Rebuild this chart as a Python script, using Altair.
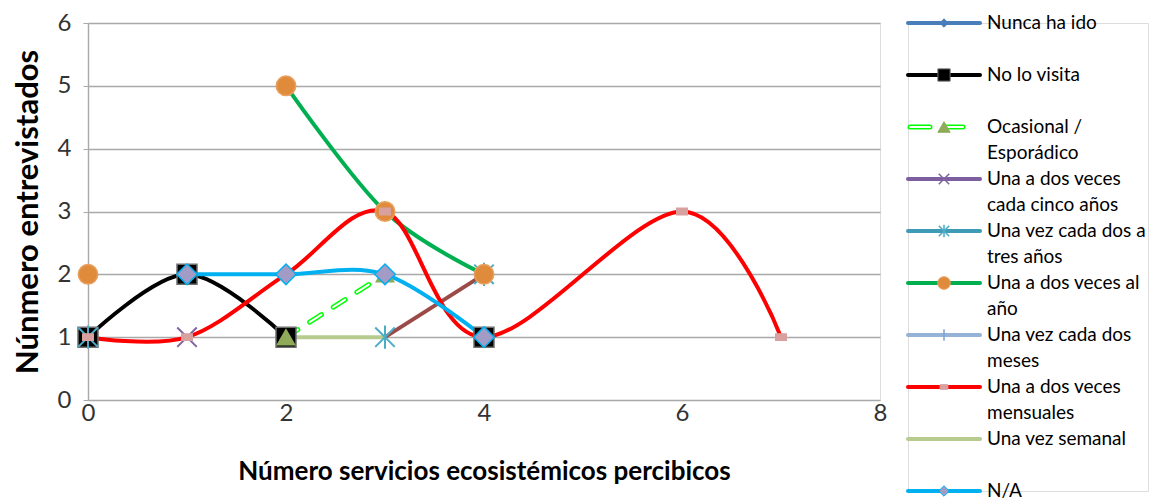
import altair as alt
import pandas as pd

FONT = "Lato"

series_names = [
    "Nunca ha ido", "No lo visita", "Ocasional / Esporádico",
    "Una a dos veces cada cinco años", "Una vez cada dos a tres años",
    "Una a dos veces al año", "Una vez cada dos meses",
    "Una a dos veces mensuales", "Una vez semanal", "N/A",
]
legend_line1 = ["Nunca ha ido", "No lo visita", "Ocasional /", "Una a dos veces",
                "Una vez cada dos a", "Una a dos veces al", "Una vez cada dos",
                "Una a dos veces", "Una vez semanal", "N/A"]
legend_line2 = ["", "", "Esporádico", "cada cinco años", "tres años", "año",
                "meses", "mensuales", "", ""]

# data points of each series: x, y and the connected stretch (segment) they belong to
nunca_x, nunca_y, nunca_seg = [], [], []
novisita_x, novisita_y, novisita_seg = [0, 1, 2, 4], [1, 2, 1, 1], [1, 1, 1, 2]
ocasional_x, ocasional_y, ocasional_seg = [2, 3], [1, 2], [1, 1]
cinco_x, cinco_y, cinco_seg = [1], [1], [1]
dostres_x, dostres_y, dostres_seg = [0, 3, 4], [1, 1, 2], [1, 2, 2]
anio_x, anio_y, anio_seg = [0, 2, 3, 4], [2, 5, 3, 2], [1, 2, 2, 2]
dosmeses_x, dosmeses_y, dosmeses_seg = [], [], []
mensual_x, mensual_y, mensual_seg = [0, 1, 2, 3, 4, 6, 7], [1, 1, 2, 3, 1, 3, 1], [1, 1, 1, 1, 1, 1, 1]
semanal_x, semanal_y, semanal_seg = [2, 3], [1, 1], [1, 1]
na_x, na_y, na_seg = [1, 2, 3, 4], [2, 2, 2, 1], [1, 1, 1, 1]

x_ticks = [0, 2, 4, 6, 8]
y_ticks = [0, 1, 2, 3, 4, 5, 6]

series_points = [
    (nunca_x, nunca_y, nunca_seg), (novisita_x, novisita_y, novisita_seg),
    (ocasional_x, ocasional_y, ocasional_seg), (cinco_x, cinco_y, cinco_seg),
    (dostres_x, dostres_y, dostres_seg), (anio_x, anio_y, anio_seg),
    (dosmeses_x, dosmeses_y, dosmeses_seg), (mensual_x, mensual_y, mensual_seg),
    (semanal_x, semanal_y, semanal_seg), (na_x, na_y, na_seg),
]

X_PATH = "M-1,-1L1,1M-1,1L1,-1"
AST_PATH = "M-1,-1L1,1M-1,1L1,-1M0,-1.2L0,1.2"
PLUS_PATH = "M0,-1L0,1"
RECT_PATH = "M-1,-0.6L1,-0.6L1,0.6L-1,0.6Z"

# style per series: line colour, marker shape, filled?, fill, stroke, size in plot, size in legend
styles = {
    "Nunca ha ido": dict(line="#4A7EBB", shape="diamond", filled=True, fill="#4A7EBB", stroke="#4A7EBB", size=120, lsize=70),
    "No lo visita": dict(line="#000000", shape="square", filled=True, fill="#000000", stroke="#6F6F6F", size=400, lsize=150),
    "Ocasional / Esporádico": dict(line="#00FF00", shape="triangle-up", filled=True, fill="#8FAA58", stroke="#8FAA58", size=300, lsize=150),
    "Una a dos veces cada cinco años": dict(line="#7D5FA0", shape=X_PATH, filled=False, fill="none", stroke="#8064A2", size=380, lsize=110),
    "Una vez cada dos a tres años": dict(line="#3E9BB5", shape=AST_PATH, filled=False, fill="none", stroke="#4BACC6", size=380, lsize=110),
    "Una a dos veces al año": dict(line="#00B050", shape="circle", filled=True, fill="#E08B3C", stroke="#E8A060", size=380, lsize=160),
    "Una vez cada dos meses": dict(line="#95B3D7", shape=PLUS_PATH, filled=False, fill="none", stroke="#7F9FCF", size=150, lsize=130),
    "Una a dos veces mensuales": dict(line="#FF0000", shape=RECT_PATH, filled=True, fill="#D9A0A0", stroke="#D9A0A0", size=110, lsize=60),
    "Una vez semanal": dict(line="#B5CC8E", shape=None, filled=True, fill="none", stroke="none", size=0, lsize=0),
    "N/A": dict(line="#00B0F0", shape="diamond", filled=True, fill="#A29BC6", stroke="#00B0F0", size=420, lsize=110),
}
BROWN = "#9C4A48"

rows = []
for name, (xs, ys, segs) in zip(series_names, series_points):
    for xv, yv, sg in zip(xs, ys, segs):
        rows.append({"series": name, "x": xv, "y": yv, "seg": f"{name}-{sg}", "sg": sg})
df = pd.DataFrame(rows)

W, H = 792, 377
xscale = alt.Scale(domain=[0, 8], nice=False, zero=False)
yscale = alt.Scale(domain=[0, 6], nice=False)

x_enc = alt.X("x:Q", scale=xscale, axis=alt.Axis(
    values=x_ticks, title="Número  servicios ecosistémicos percibicos",
    grid=False, ticks=False, domain=False, labelFontSize=24, labelColor="#333333",
    labelPadding=1, labelFlush=False, labelFont=FONT, titleFont=FONT, titleFontSize=26,
    titleFontWeight="bold", titleColor="#000000", titlePadding=33))
y_enc = alt.Y("y:Q", scale=yscale, axis=alt.Axis(
    values=y_ticks, title="Núnmero entrevistados", grid=True, gridColor="#A9A9A9",
    gridWidth=1.4, domainColor="#A9A9A9", domainWidth=1.4, tickColor="#A9A9A9",
    tickSize=5, labelFontSize=24, labelColor="#333333", labelPadding=12,
    labelFlush=False, labelFont=FONT, titleFont=FONT, titleFontSize=31,
    titleFontWeight="bold", titleColor="#000000", titlePadding=13))

base = alt.Chart(df).encode(x=x_enc, y=y_enc)

layers = []
# axes / grid carrier (invisible points)
layers.append(base.mark_point(opacity=0))

# lines first (Excel draws all lines, then markers)
for name in series_names:
    st = styles[name]
    sub = base.transform_filter(alt.datum.series == name)
    if name == "Ocasional / Esporádico":
        layers.append(sub.mark_line(strokeWidth=5, strokeDash=[14, 14], strokeCap="round",
                                    color=st["line"]).encode(detail="seg:N"))
        layers.append(sub.mark_line(strokeWidth=2, strokeDash=[14, 14], strokeCap="round",
                                    color="#FFFFFF").encode(detail="seg:N"))
    elif name == "Una vez cada dos a tres años":
        layers.append(sub.transform_filter(alt.datum.sg == 2).mark_line(
            strokeWidth=4, color=BROWN, interpolate="cardinal").encode(detail="seg:N"))
    else:
        layers.append(sub.mark_line(strokeWidth=4, color=st["line"],
                                    interpolate="cardinal").encode(detail="seg:N"))

for name in series_names:
    st = styles[name]
    if st["shape"] is None:
        continue
    sub = base.transform_filter(alt.datum.series == name)
    if st["filled"]:
        layers.append(sub.mark_point(shape=st["shape"], filled=True, size=st["size"],
                                     fill=st["fill"], stroke=st["stroke"], strokeWidth=1.5,
                                     opacity=1))
    else:
        layers.append(sub.mark_point(shape=st["shape"], filled=False, size=st["size"],
                                     stroke=st["stroke"], strokeWidth=2, opacity=1))

main = alt.layer(*layers).properties(width=W, height=H)

# ---------- legend ----------
leg_df = pd.DataFrame({"item": series_names, "l1": legend_line1, "l2": legend_line2})
leg_y = alt.Y("item:N", scale=alt.Scale(type="point", domain=series_names, padding=0), axis=None)
LH = 468
leg_base = alt.Chart(leg_df).encode(y=leg_y)
leg_layers = []
for name in series_names:
    st = styles[name]
    sub = leg_base.transform_filter(alt.datum.item == name)
    if name == "Ocasional / Esporádico":
        leg_layers.append(sub.mark_rule(strokeWidth=5, strokeDash=[20, 15], strokeCap="round",
                                        color=st["line"]).encode(x=alt.value(2), x2=alt.value(55)))
        leg_layers.append(sub.mark_rule(strokeWidth=2, strokeDash=[20, 15], strokeCap="round",
                                        color="#FFFFFF").encode(x=alt.value(2), x2=alt.value(55)))
    else:
        leg_layers.append(sub.mark_rule(strokeWidth=4, color=st["line"], strokeCap="round").encode(
            x=alt.value(0), x2=alt.value(72)))
    if st["shape"] is not None:
        if st["filled"]:
            leg_layers.append(sub.mark_point(shape=st["shape"], filled=True, size=st["lsize"],
                                             fill=st["fill"], stroke=st["stroke"], strokeWidth=1,
                                             opacity=1).encode(x=alt.value(36)))
        else:
            leg_layers.append(sub.mark_point(shape=st["shape"], filled=False, size=st["lsize"],
                                             stroke=st["stroke"], strokeWidth=1.5,
                                             opacity=1).encode(x=alt.value(36)))
leg_layers.append(leg_base.mark_text(align="left", baseline="middle", font=FONT, fontSize=19,
                                     color="#000000").encode(x=alt.value(79), text="l1:N"))
leg_layers.append(leg_base.mark_text(align="left", baseline="middle", font=FONT, fontSize=19,
                                     color="#000000", dy=26).encode(x=alt.value(79), text="l2:N"))
legend = alt.layer(*leg_layers).properties(width=240, height=LH)

chart = alt.hconcat(main, legend, spacing=28, bounds="flush").properties(
    padding={"left": 3, "top": 2, "right": 0, "bottom": 0}
).configure_view(strokeWidth=0, stroke="transparent").configure(font=FONT, background="#FFFFFF")

chart.save("out.html", embed_options={"renderer": "svg", "actions": False})
